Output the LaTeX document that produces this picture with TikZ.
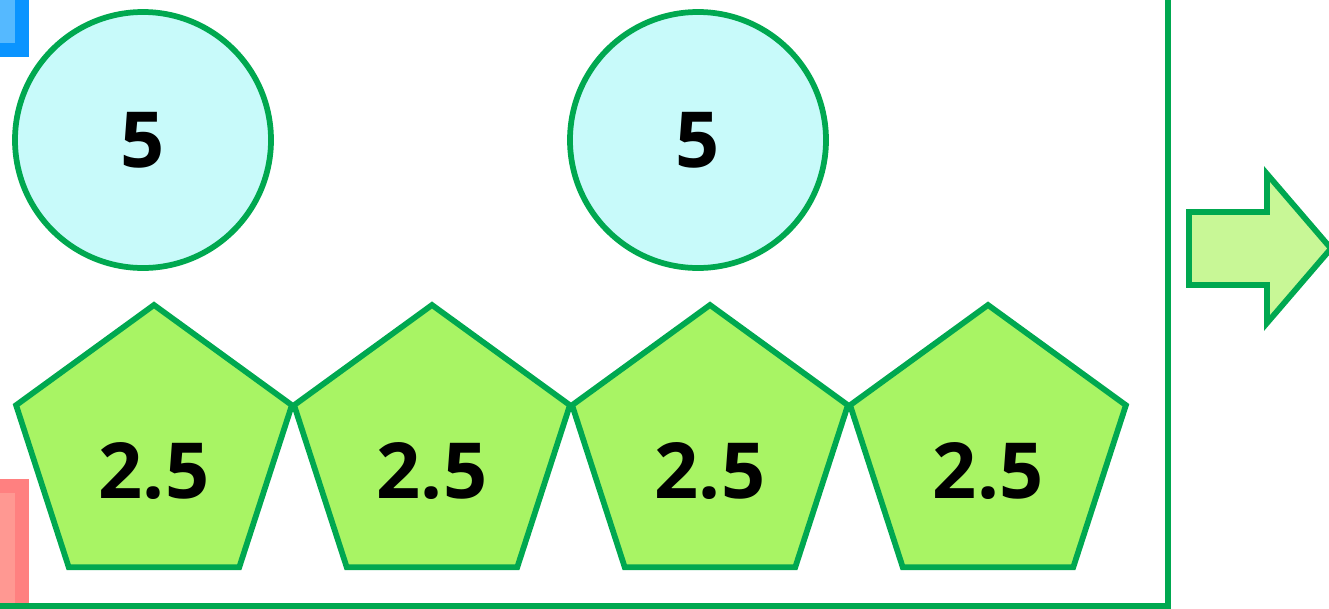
\documentclass[tikz,border=0pt]{standalone}
\usepackage{fontspec}
\setmainfont{Open Sans}
\usepackage{tikz}
\usepackage{xcolor}
\usetikzlibrary{shapes.geometric}

\definecolor{frameGreen}{RGB}{0,168,80}
\definecolor{coinFill}{RGB}{200,250,250}
\definecolor{pentFill}{RGB}{168,244,100}
\definecolor{arrowFill}{RGB}{200,247,150}
\definecolor{blueEdge}{RGB}{10,148,255}
\definecolor{blueIn}{RGB}{85,185,255}
\definecolor{redEdge}{RGB}{255,128,128}
\definecolor{redIn}{RGB}{255,152,146}

\begin{document}
\begin{tikzpicture}[
    coin/.style={circle, draw=frameGreen, fill=coinFill, line width=0.115cm, minimum size=5.12cm, inner sep=0pt},
    penta/.style={regular polygon, regular polygon sides=5, draw=frameGreen, fill=pentFill, line width=0.115cm, minimum size=5.8cm, inner sep=0pt},
    num/.style={font=\fontsize{44}{53}\selectfont\bfseries, text=black, inner sep=0pt}]
    \useasboundingbox (0,0) rectangle (26.58,-12.18);
    \clip (0,0) rectangle (26.58,-12.18);
    % Corner boxes
    \draw[draw=blueEdge, fill=blueIn, line width=0.28cm] (-1,1) rectangle (0.44,-0.99);
    \draw[draw=redEdge, fill=redIn, line width=0.28cm] (-1,-9.72) rectangle (0.44,-13);
    % Frame
    \draw[frameGreen, line width=0.11cm] (-1,1) rectangle (23.36,-12.12);
    % Circles
    \node[coin] (c1) at (2.86,-2.80) {};
    \node[coin] (c2) at (13.96,-2.80) {};
    \node[num] (v1) at (c1.center) {5};
    \node[num] (v2) at (c2.center) {5};
    % Pentagons
    \foreach \i/\x in {1/3.08, 2/8.64, 3/14.20, 4/19.76} {
        \node[penta] (p\i) at (\x,-9.00) {};
        \node[num] (w\i) at ([yshift=-0.42cm]p\i.center) {2.5};
    }
    % Arrow
    \draw[frameGreen, fill=arrowFill, line width=0.115cm, line join=miter]
        (23.78,-4.24) -- (25.34,-4.24) -- (25.34,-3.48) -- (26.62,-4.97)
        -- (25.34,-6.46) -- (25.34,-5.70) -- (23.78,-5.70) -- cycle;
\end{tikzpicture}
\end{document}
